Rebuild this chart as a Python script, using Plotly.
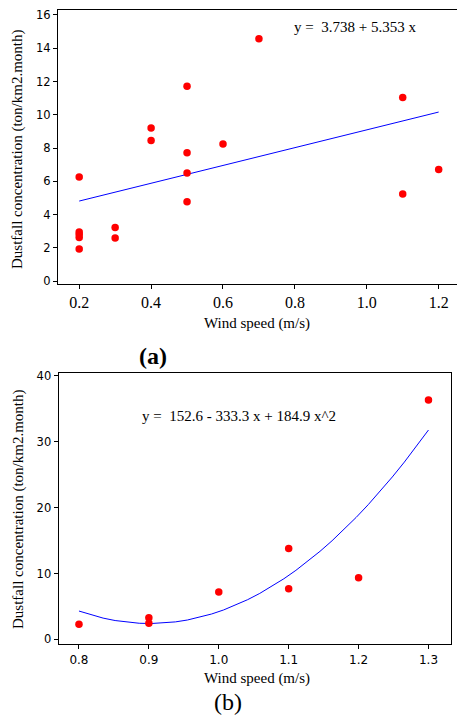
import numpy as np
import plotly.graph_objects as go

# Panel (a) data
wind_a = [0.2, 0.2, 0.2, 0.2, 0.2, 0.3, 0.3, 0.4, 0.4, 0.5, 0.5, 0.5, 0.5, 0.6, 0.7, 1.1, 1.1, 1.2]
dust_a = [6.25, 2.95, 2.8, 2.62, 1.92, 3.22, 2.58, 9.2, 8.45, 11.72, 7.72, 6.5, 4.76, 8.24, 14.57, 11.03, 5.23, 6.7]
coef_a = [3.738, 5.353]  # y = a + b x

# Panel (b) data
wind_b = [0.8, 0.9, 0.9, 1.0, 1.1, 1.1, 1.2, 1.3]
dust_b = [2.28, 3.29, 2.43, 7.19, 13.8, 7.7, 9.37, 36.35]
coef_b = [152.6, -333.3, 184.9]  # y = a + b x + c x^2

ticks_xa = [0.2, 0.4, 0.6, 0.8, 1.0, 1.2]
ticks_ya = [0, 2, 4, 6, 8, 10, 12, 14, 16]
ticks_xb = [0.8, 0.9, 1.0, 1.1, 1.2, 1.3]
ticks_yb = [0, 10, 20, 30, 40]

W, H = 457, 715

fig = go.Figure()

xa = np.linspace(min(wind_a), max(wind_a), 30)
ya = coef_a[0] + coef_a[1] * xa
fig.add_trace(go.Scatter(x=xa, y=ya, mode="lines", line=dict(color="#0000ff", width=1),
                         xaxis="x", yaxis="y", showlegend=False, hoverinfo="skip"))
fig.add_trace(go.Scatter(x=wind_a, y=dust_a, mode="markers",
                         marker=dict(color="#ff0000", size=7.5),
                         xaxis="x", yaxis="y", showlegend=False))

xb = np.linspace(min(wind_b), max(wind_b), 30)
yb = coef_b[0] + coef_b[1] * xb + coef_b[2] * xb ** 2
fig.add_trace(go.Scatter(x=xb, y=yb, mode="lines", line=dict(color="#0000ff", width=1),
                         xaxis="x2", yaxis="y2", showlegend=False, hoverinfo="skip"))
fig.add_trace(go.Scatter(x=wind_b, y=dust_b, mode="markers",
                         marker=dict(color="#ff0000", size=7.5),
                         xaxis="x2", yaxis="y2", showlegend=False))

serif = "Liberation Serif"
sans = "DejaVu Sans"
ax_common = dict(showgrid=False, zeroline=False, showline=True, linecolor="#000",
                 linewidth=1.3, ticks="outside", ticklen=4, tickcolor="#000", automargin=False)


def ann(text, x, y, size=15, angle=0, xanchor="center"):
    return dict(text=text, x=x / W, y=1 - y / H, xref="paper", yref="paper", showarrow=False,
                textangle=angle, font=dict(family=serif, size=size, color="#000"),
                xanchor=xanchor, yanchor="middle")


fig.update_layout(
    width=W, height=H,
    margin=dict(l=0, r=0, t=0, b=0, autoexpand=False),
    paper_bgcolor="white", plot_bgcolor="white",
    xaxis=dict(**ax_common, domain=[58 / W, 1.0], range=[0.141, 1.251],
               tickvals=ticks_xa, ticktext=[f"{v:.1f}" for v in ticks_xa],
               tickfont=dict(family=serif, size=16, color="#000"), mirror=True, anchor="y"),
    yaxis=dict(**ax_common, domain=[1 - 284 / H, 1 - 10 / H], range=[-0.18, 16.3],
               tickvals=ticks_ya,
               tickfont=dict(family=sans, size=11.5, color="#000"), anchor="x"),
    xaxis2=dict(**ax_common, domain=[58.7 / W, 450.5 / W], range=[0.771, 1.3315],
                tickvals=ticks_xb, ticktext=[f"{v:.1f}" for v in ticks_xb],
                tickfont=dict(family=sans, size=12, color="#000"), mirror=True, anchor="y2"),
    yaxis2=dict(**ax_common, domain=[1 - 644 / H, 1 - 372.7 / H], range=[-0.71, 40.5],
                tickvals=ticks_yb, mirror=True,
                tickfont=dict(family=sans, size=11.5, color="#000"), anchor="x2"),
    annotations=[
        ann("y =  3.738 + 5.353 x", 355, 26.5),
        ann("y =  152.6 - 333.3 x + 184.9 x^2", 140, 416.5, xanchor="left"),
        ann("Wind speed (m/s)", 257, 323),
        ann("Wind speed (m/s)", 257, 678),
        ann("Dustfall concentration (ton/km2.month)", 17, 149, angle=-90),
        ann("Dustfall concentration (ton/km2.month)", 18, 509, angle=-90),
        ann("<b>(a)</b>", 153, 356, size=24),
        ann("(b)", 228, 702, size=24),
    ],
)

fig.write_html("out.html", config={"displayModeBar": False},
               post_script="document.body.style.margin='0';document.body.style.overflow='hidden';")
